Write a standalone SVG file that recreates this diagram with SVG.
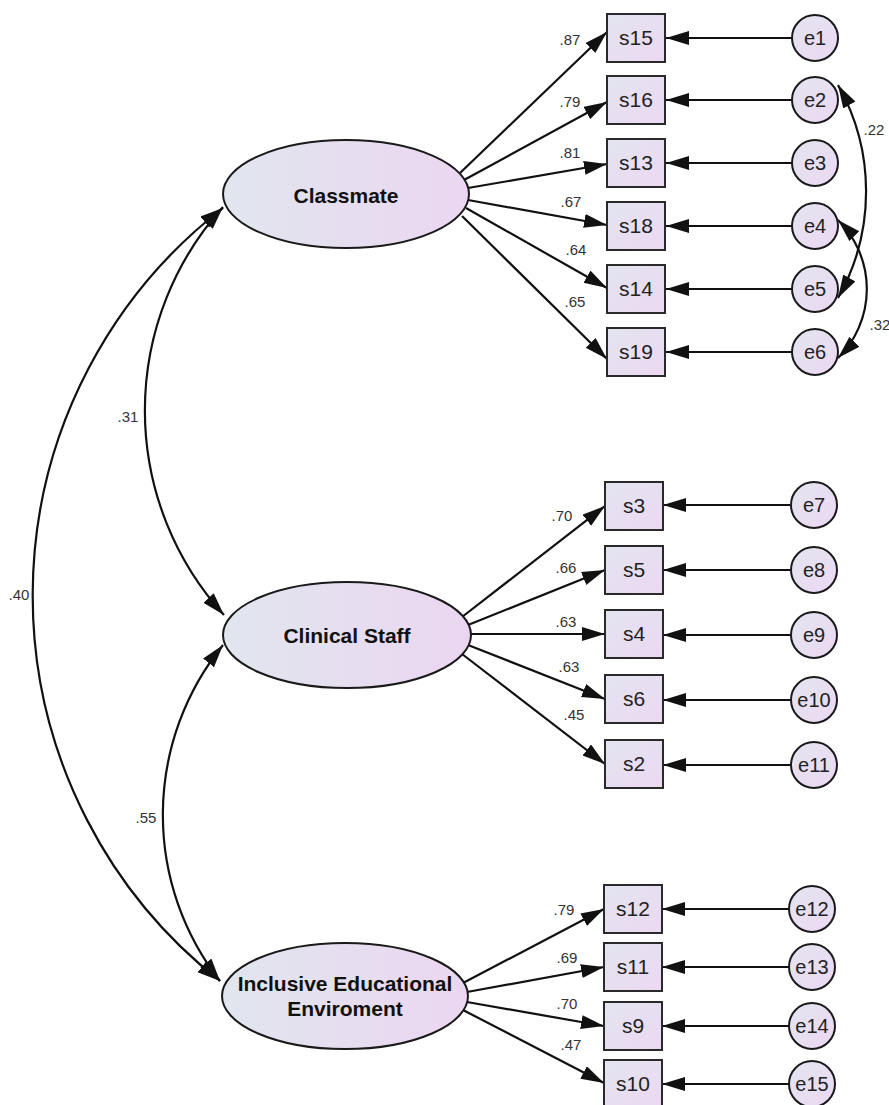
<svg xmlns="http://www.w3.org/2000/svg" width="889" height="1105" viewBox="0 0 889 1105">
<defs>
<linearGradient id="gEll" x1="0" y1="0" x2="1" y2="0">
<stop offset="0" stop-color="#e1e6ee"/>
<stop offset="1" stop-color="#ebd6f1"/>
</linearGradient>
<linearGradient id="gBox" x1="0" y1="0" x2="1" y2="1">
<stop offset="0" stop-color="#e3e5f0"/>
<stop offset="1" stop-color="#ecd8f2"/>
</linearGradient>
<marker id="ah" markerUnits="userSpaceOnUse" markerWidth="26" markerHeight="15" refX="23" refY="7" orient="auto-start-reverse" viewBox="0 0 26 15">
<path d="M0,0 L23,7 L0,14 z" fill="#111"/>
</marker>
<style>
.lat{fill:url(#gEll);stroke:#1a1a1a;stroke-width:2}
.box{fill:url(#gBox);stroke:#2a2a2a;stroke-width:2}
.err{fill:url(#gBox);stroke:#1a1a1a;stroke-width:2}
.latt{font-family:"Liberation Sans",Arial,sans-serif;font-weight:bold;font-size:21px;fill:#111;text-anchor:middle}
.bt{font-family:"Liberation Sans",Arial,sans-serif;font-size:21px;fill:#222;text-anchor:middle}
.et{font-family:"Liberation Sans",Arial,sans-serif;font-size:20px;fill:#222;text-anchor:middle}
.lbl{font-family:"Liberation Sans",Arial,sans-serif;font-size:15px;fill:#333;text-anchor:middle}
.c{fill:none;stroke:#111;stroke-width:2.2;marker-end:url(#ah)}
.cv{fill:none;stroke:#111;stroke-width:2.2;marker-start:url(#ah);marker-end:url(#ah)}
</style>
</defs>
<rect width="889" height="1105" fill="#fff"/>

<g id="connectors">
<path class="c" d="M460,173 L607,32"/>
<path class="c" d="M464,180 L607,102"/>
<path class="c" d="M468,188 L607,164"/>
<path class="c" d="M468,200 L607,225"/>
<path class="c" d="M466,208 L607,288"/>
<path class="c" d="M462,216 L607,359"/>
<path class="c" d="M462,617 L605,506"/>
<path class="c" d="M468,625 L605,570"/>
<path class="c" d="M471,634 L605,634"/>
<path class="c" d="M468,645 L605,699"/>
<path class="c" d="M462,654 L605,764"/>
<path class="c" d="M463,983 L604,909"/>
<path class="c" d="M467,992 L604,967"/>
<path class="c" d="M467,1002 L604,1026"/>
<path class="c" d="M463,1010 L604,1083"/>
<path class="c" d="M792,38 L666,38"/>
<path class="c" d="M792,100 L666,100"/>
<path class="c" d="M792,163 L666,163"/>
<path class="c" d="M792,226 L666,226"/>
<path class="c" d="M792,289 L666,289"/>
<path class="c" d="M792,352 L666,352"/>
<path class="c" d="M791,505 L663,505"/>
<path class="c" d="M791,570 L663,570"/>
<path class="c" d="M791,635 L663,635"/>
<path class="c" d="M791,700 L663,700"/>
<path class="c" d="M791,765 L663,765"/>
<path class="c" d="M789,909 L662,909"/>
<path class="c" d="M789,967 L662,967"/>
<path class="c" d="M789,1026 L662,1026"/>
<path class="c" d="M789,1084 L662,1084"/>
<path class="cv" d="M223,207 A304,304 0 0,0 224,615"/>
<path class="cv" d="M223,208 A490,490 0 0,0 220,981"/>
<path class="cv" d="M223,645 A270,270 0 0,0 220,981"/>
<path class="cv" d="M838,85 A216,216 0 0,1 838,298"/>
<path class="cv" d="M838,220 A97,97 0 0,1 838,358"/>
<text class="lbl" x="570" y="45">.87</text>
<text class="lbl" x="570" y="107">.79</text>
<text class="lbl" x="570" y="158">.81</text>
<text class="lbl" x="571" y="207">.67</text>
<text class="lbl" x="576" y="255">.64</text>
<text class="lbl" x="575" y="307">.65</text>
<text class="lbl" x="562" y="521">.70</text>
<text class="lbl" x="566" y="573">.66</text>
<text class="lbl" x="566" y="627">.63</text>
<text class="lbl" x="569" y="672">.63</text>
<text class="lbl" x="574" y="720">.45</text>
<text class="lbl" x="564" y="915">.79</text>
<text class="lbl" x="567" y="963">.69</text>
<text class="lbl" x="567" y="1009">.70</text>
<text class="lbl" x="571" y="1050">.47</text>
<text class="lbl" x="128" y="422">.31</text>
<text class="lbl" x="19" y="600">.40</text>
<text class="lbl" x="146" y="823">.55</text>
<text class="lbl" x="874" y="135">.22</text>
<text class="lbl" x="880" y="330">.32</text>
</g>

<g id="Classmate"><ellipse class="lat" cx="346" cy="194" rx="123" ry="54"/><text class="latt" x="346" y="203">Classmate</text></g>
<g id="ClinicalStaff"><ellipse class="lat" cx="347" cy="635" rx="124" ry="53"/><text class="latt" x="347" y="643">Clinical Staff</text></g>
<g id="InclusiveEducationalEnviroment"><ellipse class="lat" cx="345" cy="996" rx="123" ry="53"/><text class="latt" x="345" y="991">Inclusive Educational</text><text class="latt" x="345" y="1016">Enviroment</text></g>

<g id="s15"><rect class="box" x="607" y="14" width="58" height="48"/><text class="bt" x="636" y="45">s15</text></g>
<g id="s16"><rect class="box" x="607" y="76" width="58" height="48"/><text class="bt" x="636" y="107">s16</text></g>
<g id="s13"><rect class="box" x="607" y="139" width="58" height="48"/><text class="bt" x="636" y="170">s13</text></g>
<g id="s18"><rect class="box" x="607" y="202" width="58" height="48"/><text class="bt" x="636" y="233">s18</text></g>
<g id="s14"><rect class="box" x="607" y="265" width="58" height="48"/><text class="bt" x="636" y="296">s14</text></g>
<g id="s19"><rect class="box" x="607" y="328" width="58" height="48"/><text class="bt" x="636" y="359">s19</text></g>

<g id="s3"><rect class="box" x="605" y="482" width="58" height="48"/><text class="bt" x="634" y="513">s3</text></g>
<g id="s5"><rect class="box" x="605" y="546" width="58" height="48"/><text class="bt" x="634" y="577">s5</text></g>
<g id="s4"><rect class="box" x="605" y="610" width="58" height="48"/><text class="bt" x="634" y="641">s4</text></g>
<g id="s6"><rect class="box" x="605" y="675" width="58" height="48"/><text class="bt" x="634" y="706">s6</text></g>
<g id="s2"><rect class="box" x="605" y="740" width="58" height="48"/><text class="bt" x="634" y="771">s2</text></g>

<g id="s12"><rect class="box" x="604" y="885" width="58" height="48"/><text class="bt" x="633" y="916">s12</text></g>
<g id="s11"><rect class="box" x="604" y="943" width="58" height="48"/><text class="bt" x="633" y="974">s11</text></g>
<g id="s9"><rect class="box" x="604" y="1002" width="58" height="48"/><text class="bt" x="633" y="1033">s9</text></g>
<g id="s10"><rect class="box" x="604" y="1060" width="58" height="48"/><text class="bt" x="633" y="1091">s10</text></g>

<g id="e1"><circle class="err" cx="815" cy="38" r="23"/><text class="et" x="815" y="45">e1</text></g>
<g id="e2"><circle class="err" cx="815" cy="100" r="23"/><text class="et" x="815" y="107">e2</text></g>
<g id="e3"><circle class="err" cx="815" cy="163" r="23"/><text class="et" x="815" y="170">e3</text></g>
<g id="e4"><circle class="err" cx="815" cy="226" r="23"/><text class="et" x="815" y="233">e4</text></g>
<g id="e5"><circle class="err" cx="815" cy="289" r="23"/><text class="et" x="815" y="296">e5</text></g>
<g id="e6"><circle class="err" cx="815" cy="352" r="23"/><text class="et" x="815" y="359">e6</text></g>
<g id="e7"><circle class="err" cx="814" cy="505" r="23"/><text class="et" x="814" y="512">e7</text></g>
<g id="e8"><circle class="err" cx="814" cy="570" r="23"/><text class="et" x="814" y="577">e8</text></g>
<g id="e9"><circle class="err" cx="814" cy="635" r="23"/><text class="et" x="814" y="642">e9</text></g>
<g id="e10"><circle class="err" cx="814" cy="700" r="23"/><text class="et" x="814" y="707">e10</text></g>
<g id="e11"><circle class="err" cx="814" cy="765" r="23"/><text class="et" x="814" y="772">e11</text></g>
<g id="e12"><circle class="err" cx="812" cy="909" r="23"/><text class="et" x="812" y="916">e12</text></g>
<g id="e13"><circle class="err" cx="812" cy="967" r="23"/><text class="et" x="812" y="974">e13</text></g>
<g id="e14"><circle class="err" cx="812" cy="1026" r="23"/><text class="et" x="812" y="1033">e14</text></g>
<g id="e15"><circle class="err" cx="812" cy="1084" r="23"/><text class="et" x="812" y="1091">e15</text></g>
</svg>
